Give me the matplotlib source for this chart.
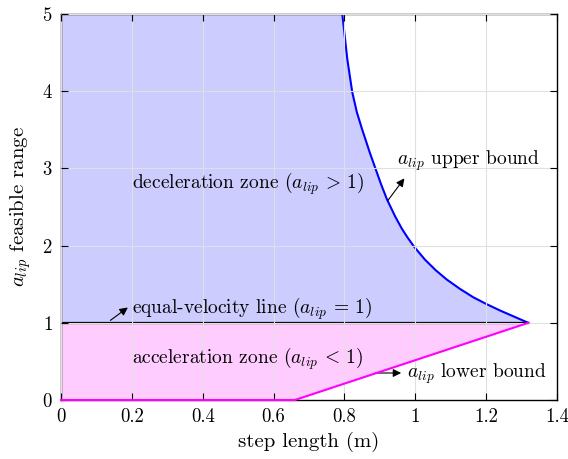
import matplotlib
matplotlib.use('Agg')
import matplotlib.pyplot as plt

plt.rcParams['font.family'] = 'cmr10'
plt.rcParams['mathtext.fontset'] = 'cm'
plt.rcParams['axes.formatter.use_mathtext'] = True

# upper bound curve
upper_x = [0.794, 0.808, 0.822, 0.835, 0.849, 0.872, 0.903, 0.920, 0.943, 0.962,
           0.979, 0.996, 1.027, 1.058, 1.089, 1.126, 1.164, 1.200, 1.239, 1.279, 1.319]
upper_y = [5.00, 4.42, 3.99, 3.73, 3.52, 3.20, 2.80, 2.60, 2.38, 2.22,
           2.10, 1.99, 1.82, 1.68, 1.56, 1.44, 1.33, 1.245, 1.16, 1.08, 1.00]

# lower bound (flat at 0 then linear up to the tip)
lower_x = [0.0, 0.66, 1.319]
lower_y = [0.0, 0.0, 1.0]

x_ticks = [0, 0.2, 0.4, 0.6, 0.8, 1.0, 1.2, 1.4]
x_tick_labels = ['0', '0.2', '0.4', '0.6', '0.8', '1', '1.2', '1.4']
y_ticks = [0, 1, 2, 3, 4, 5]

fig = plt.figure(figsize=(5.68, 4.59), dpi=100)
ax = fig.add_axes([0.1074, 0.1285, 0.8732, 0.841])

# fills
ax.fill_between([0] + upper_x, [5] + upper_y, 1, color='#ccccff', lw=0)
ax.fill_between(lower_x, 1, lower_y, color='#ffccff', lw=0)

ax.plot(upper_x, upper_y, color='#0000ff', lw=1.5)
ax.plot(lower_x, lower_y, color='#ff00ff', lw=1.5, clip_on=False, zorder=5)
ax.plot([0, upper_x[-1]], [1, 1], color='black', lw=1.6)

ax.set_xlim(0, 1.4)
ax.set_ylim(0, 5)
ax.set_xticks(x_ticks)
ax.set_xticklabels(x_tick_labels)
ax.set_yticks(y_ticks)
ax.grid(True, color='#e0e0e0', lw=0.8)
ax.set_axisbelow(False)
ax.tick_params(direction='in', top=True, right=True, labelsize=13.5, length=5, pad=6)
for s in ax.spines.values():
    s.set_linewidth(1.0)

ax.set_xlabel('step length (m)', fontsize=15, labelpad=4)
ax.set_ylabel('$a_{lip}$ feasible range', fontsize=15, labelpad=6)

fs = 14
arrow = dict(arrowstyle='-|>', color='black', lw=0.8, mutation_scale=12)
ax.text(0.2, 2.8, r'deceleration zone ($a_{lip}\,>\,1$)', fontsize=fs, va='center')
ax.text(0.2, 0.53, r'acceleration zone ($a_{lip}\,<\,1$)', fontsize=fs, va='center')
ax.text(0.2, 1.18, r'equal-velocity line ($a_{lip}\,=\,1$)', fontsize=fs, va='center')
ax.annotate('', xy=(0.195, 1.22), xytext=(0.133, 1.01), arrowprops=arrow)
ax.text(0.948, 3.1, '$a_{lip}$ upper bound', fontsize=fs, va='center')
ax.annotate('', xy=(0.974, 2.9), xytext=(0.917, 2.55), arrowprops=arrow)
ax.text(0.977, 0.34, '$a_{lip}$ lower bound', fontsize=fs, va='center')
ax.annotate('', xy=(0.968, 0.35), xytext=(0.88, 0.35), arrowprops=arrow)

fig.savefig('out.png', dpi=100)
